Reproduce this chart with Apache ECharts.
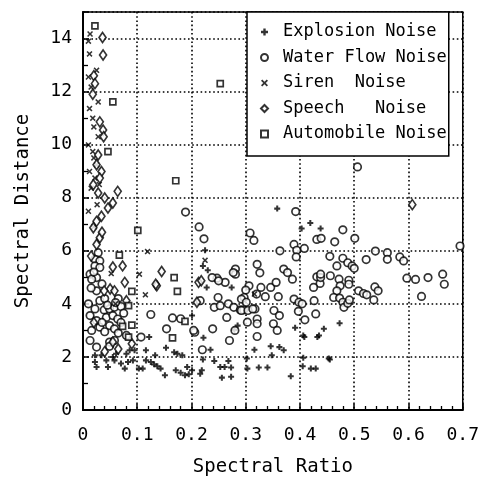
<!DOCTYPE html>
<html><head><meta charset="utf-8">
<script src="https://cdn.jsdelivr.net/npm/echarts@6/dist/echarts.min.js"></script>
<style>html,body{margin:0;padding:0;background:#fff}#c{width:482px;height:485px}</style>
</head><body><div id="c"></div>
<script>
var seriesNames = ['Explosion Noise', 'Water Flow Noise', 'Siren  Noise', 'Speech   Noise', 'Automobile Noise'];

var explosion = [[0.358,7.59],[0.419,7.05],[0.438,6.84],[0.403,6.84],[0.225,6.02],[0.221,5.43],[0.230,5.27],[0.228,4.62],[0.274,4.62],[0.201,3.56],[0.222,2.72],[0.285,3.18],[0.279,3.02],[0.391,3.1],[0.406,2.81],[0.316,2.27],[0.346,2.4],[0.362,2.37],[0.370,2.25],[0.348,2.06],[0.235,2.27],[0.221,1.9],[0.242,1.85],[0.253,1.62],[0.261,1.62],[0.273,1.6],[0.268,1.85],[0.219,1.5],[0.216,1.37],[0.201,1.5],[0.256,1.22],[0.273,1.25],[0.302,1.94],[0.303,1.56],[0.324,1.6],[0.34,1.6],[0.383,1.27],[0.406,1.97],[0.405,1.65],[0.42,1.56],[0.429,1.56],[0.473,3.27],[0.444,3.06],[0.435,2.81],[0.455,1.9],[0.453,1.94],[0.408,2.75],[0.432,2.75],[0.022,1.81],[0.025,1.62],[0.043,1.87],[0.046,1.62],[0.058,1.87],[0.061,2.12],[0.07,1.75],[0.077,1.56],[0.08,2.12],[0.086,2.25],[0.034,2.06],[0.095,2.25],[0.022,2.06],[0.055,2.0],[0.083,1.81],[0.092,1.87],[0.103,1.56],[0.11,1.56],[0.116,1.87],[0.125,1.81],[0.131,1.72],[0.137,1.65],[0.143,1.56],[0.151,1.31],[0.133,2.06],[0.153,2.35],[0.122,2.75],[0.116,2.25],[0.168,2.18],[0.174,2.12],[0.183,2.06],[0.171,1.5],[0.18,1.4],[0.188,1.31],[0.195,1.35],[0.192,1.62]];

var waterFlow = [[0.214,6.9],[0.223,6.45],[0.308,6.67],[0.315,6.39],[0.363,6.0],[0.392,7.48],[0.389,6.24],[0.394,6.02],[0.408,6.09],[0.393,5.77],[0.431,6.43],[0.439,6.47],[0.321,5.49],[0.326,5.17],[0.281,5.31],[0.281,5.12],[0.247,4.97],[0.262,4.81],[0.306,4.68],[0.300,4.52],[0.328,4.62],[0.346,4.62],[0.356,4.81],[0.336,4.27],[0.360,4.27],[0.370,5.31],[0.377,5.18],[0.386,4.93],[0.216,4.12],[0.249,4.24],[0.242,3.87],[0.253,3.93],[0.268,4.0],[0.278,3.87],[0.290,3.77],[0.296,3.77],[0.297,4.24],[0.317,3.81],[0.321,3.43],[0.321,3.25],[0.303,3.31],[0.352,3.75],[0.362,3.56],[0.351,3.25],[0.358,3.0],[0.265,3.49],[0.239,3.06],[0.206,2.93],[0.280,3.0],[0.270,2.62],[0.321,2.77],[0.389,4.18],[0.398,4.06],[0.404,4.0],[0.426,4.12],[0.409,3.4],[0.429,3.62],[0.431,5.02],[0.437,4.77],[0.425,4.62],[0.22,2.27],
[0.506,9.16],[0.479,6.79],[0.464,6.34],[0.501,6.47],[0.695,6.18],[0.539,5.99],[0.522,5.67],[0.561,5.93],[0.561,5.68],[0.584,5.77],[0.591,5.62],[0.455,5.79],[0.479,5.72],[0.488,5.55],[0.496,5.43],[0.5,5.34],[0.468,5.43],[0.597,4.97],[0.613,4.92],[0.636,4.99],[0.663,5.12],[0.666,4.74],[0.624,4.28],[0.456,5.06],[0.472,4.93],[0.49,4.89],[0.49,4.74],[0.438,4.99],[0.474,4.68],[0.468,4.49],[0.462,4.24],[0.473,4.22],[0.479,4.06],[0.481,3.87],[0.488,4.02],[0.491,4.15],[0.508,4.49],[0.517,4.39],[0.523,4.34],[0.538,4.64],[0.544,4.49],[0.536,4.15],
[0.125,3.6],[0.165,3.47],[0.154,3.06],[0.204,3.0],[0.107,2.75],[0.18,3.44],[0.189,7.46],[0.238,4.99],[0.25,4.87],[0.277,5.18],
[0.028,5.93],[0.022,5.68],[0.031,5.62],[0.022,5.43],[0.031,5.37],[0.013,5.12],[0.025,4.99],[0.016,4.93],[0.025,4.49],[0.031,4.12],[0.01,4.0],[0.022,3.81],[0.039,3.77],[0.049,3.81],[0.058,3.87],[0.043,3.49],[0.055,3.56],[0.064,3.43],[0.013,3.56],[0.025,3.37],[0.031,3.12],[0.016,3.0],[0.049,3.18],[0.058,3.06],[0.013,2.62],[0.025,2.37],[0.049,2.56],[0.049,2.4],[0.058,2.62],[0.080,2.81],
[0.32,4.37],[0.292,4.18],[0.301,4.06],[0.292,3.75],[0.304,3.75],[0.313,3.81],[0.397,3.72],[0.438,5.12],
[0.065,4.2],[0.07,3.9],[0.075,3.65],[0.04,4.2],[0.045,3.95],[0.06,4.05],[0.035,3.3],[0.04,2.95],[0.065,2.9],[0.07,3.3],[0.015,4.6],[0.035,4.75],[0.02,5.2]];

var siren = [[0.013,14.17],[0.012,13.42],[0.025,12.8],[0.01,12.55],[0.015,12.17],[0.028,11.61],[0.012,11.36],[0.02,10.67],[0.028,10.3],[0.01,9.99],[0.018,9.74],[0.025,9.24],[0.012,8.99],[0.022,8.74],[0.015,8.36],[0.026,7.74],[0.01,7.49],[0.018,11.0],[0.02,9.5],[0.03,8.5],[0.01,13.9],[0.02,6.9],[0.119,5.97],[0.052,5.14],[0.104,5.12],[0.115,4.34],[0.225,5.64],[0.316,4.37],[0.06,4.0]];

var speech = [[0.036,14.04],[0.037,13.38],[0.02,12.6],[0.022,12.3],[0.018,11.9],[0.031,10.86],[0.037,10.55],[0.038,10.3],[0.028,9.61],[0.025,9.24],[0.034,8.99],[0.031,8.74],[0.019,8.49],[0.028,8.18],[0.04,7.99],[0.064,8.24],[0.055,7.8],[0.046,7.61],[0.034,7.3],[0.025,7.11],[0.019,6.87],[0.031,6.49],[0.025,6.24],[0.055,5.39],[0.073,5.43],[0.145,5.22],[0.077,4.81],[0.136,4.68],[0.05,4.56],[0.08,4.12],[0.055,2.56],[0.058,4.49],[0.039,4.49],[0.134,4.74],[0.213,4.81],[0.218,4.87],[0.21,4.06],[0.607,7.74],[0.015,5.8],[0.035,6.7],[0.02,3.3],[0.04,2.2],[0.065,2.3],[0.09,2.5]];

var automobile = [[0.022,14.48],[0.055,11.61],[0.046,9.74],[0.101,6.77],[0.253,12.3],[0.171,8.64],[0.067,5.84],[0.168,4.99],[0.174,4.47],[0.09,4.47],[0.188,3.34],[0.165,2.72],[0.073,3.15],[0.084,2.75],[0.084,3.93],[0.09,3.2]];

var FONT = 'DejaVu Sans Mono';
var plusPath = 'path://M3.3,0H6.7V3.3H10V6.7H6.7V10H3.3V6.7H0V3.3H3.3Z';
var crossPath = 'path://M1.8,0L5,3.2L8.2,0L10,1.8L6.8,5L10,8.2L8.2,10L5,6.8L1.8,10L0,8.2L3.2,5L0,1.8Z';

var openStyle = {color: '#fff', borderColor: '#000', borderWidth: 1.7};
var solidStyle = {color: '#000', borderWidth: 0};

var chart = echarts.init(document.getElementById('c'), null, {renderer: 'canvas'});
chart.setOption({
  animation: false,
  backgroundColor: '#fff',
  grid: {left: 83, right: 15, top: 12, bottom: 75, show: true, borderColor: '#000', borderWidth: 1.5, backgroundColor: 'transparent'},
  legend: {
    orient: 'vertical', left: 247, top: 12,
    padding: [11, 2, 13, 13],
    itemWidth: 7, itemHeight: 7, itemGap: 7.5,
    backgroundColor: '#fff', borderColor: '#000', borderWidth: 1.5, borderRadius: 0,
    textStyle: {fontFamily: FONT, fontSize: 17, color: '#000', lineHeight: 18, padding: [0, 0, 0, 10]},
    data: [
      {name: seriesNames[0], icon: plusPath},
      {name: seriesNames[1], icon: 'circle'},
      {name: seriesNames[2], icon: crossPath},
      {name: seriesNames[3], icon: 'diamond'},
      {name: seriesNames[4], icon: 'rect'}
    ]
  },
  xAxis: {
    type: 'value', min: 0, max: 0.7, interval: 0.1,
    name: 'Spectral Ratio', nameLocation: 'middle', nameGap: 48,
    nameTextStyle: {fontFamily: FONT, fontSize: 19, color: '#000'},
    axisLine: {show: true, lineStyle: {color: '#000', width: 2}},
    axisTick: {show: true, inside: true, length: 6, lineStyle: {color: '#000', width: 1.5}},
    minorTick: {show: true, splitNumber: 5, length: 4, lineStyle: {color: '#000', width: 1.3}},
    axisLabel: {fontFamily: FONT, fontSize: 18, color: '#000', margin: 16,
      formatter: function (v) { return v === 0 ? '0' : v.toFixed(1); }},
    splitLine: {show: true, lineStyle: {color: '#000', width: 1.6, type: [1.6, 2.6]}}
  },
  yAxis: {
    type: 'value', min: 0, max: 15, interval: 2,
    name: 'Spectral Distance', nameLocation: 'middle', nameGap: 50,
    nameTextStyle: {fontFamily: FONT, fontSize: 19, color: '#000'},
    axisLine: {show: true, lineStyle: {color: '#000', width: 2}},
    axisTick: {show: true, inside: true, length: 6, lineStyle: {color: '#000', width: 1.5}},
    minorTick: {show: true, splitNumber: 2, length: 5, lineStyle: {color: '#000', width: 1.3}},
    axisLabel: {fontFamily: FONT, fontSize: 18, color: '#000', margin: 11, showMaxLabel: false},
    splitLine: {show: true, lineStyle: {color: '#000', width: 1.6, type: [1.6, 2.6]}}
  },
  series: [
    {name: seriesNames[0], type: 'scatter', data: explosion, symbol: plusPath, symbolSize: 6, itemStyle: solidStyle},
    {name: seriesNames[1], type: 'scatter', data: waterFlow, symbol: 'circle', symbolSize: 7.5, itemStyle: openStyle},
    {name: seriesNames[2], type: 'scatter', data: siren, symbol: crossPath, symbolSize: 6, itemStyle: solidStyle},
    {name: seriesNames[3], type: 'scatter', data: speech, symbol: 'diamond', symbolSize: [7, 10], itemStyle: openStyle},
    {name: seriesNames[4], type: 'scatter', data: automobile, symbol: 'rect', symbolSize: 6, itemStyle: openStyle}
  ]
});
</script></body></html>
